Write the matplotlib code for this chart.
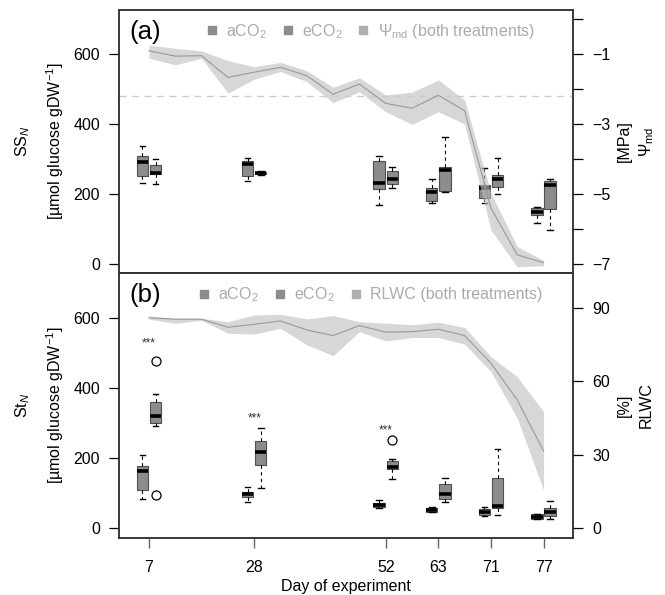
import numpy as np
import matplotlib
matplotlib.use("Agg")
import matplotlib.pyplot as plt
from matplotlib.lines import Line2D

plt.rcParams['font.family'] = ['Liberation Sans', 'DejaVu Sans']
plt.rcParams['mathtext.fontset'] = 'custom'
plt.rcParams['mathtext.rm'] = 'Liberation Sans'
plt.rcParams['mathtext.it'] = 'Liberation Sans:italic'
plt.rcParams['axes.unicode_minus'] = True

# sampling points (16 measurements of plant water status)
line_idx = np.arange(16)
# sampling points at which carbohydrates were measured
days = [7, 28, 52, 63, 71, 77]
box_idx = [0, 4, 9, 11, 13, 15]

# midday water potential [MPa]: mean and band limits
psi_mean = [-0.91, -1.06, -1.05, -1.67, -1.52, -1.38, -1.62, -2.15, -1.86, -2.41,
            -2.55, -2.18, -2.62, -5.40, -6.74, -6.96]
psi_hi = [-0.74, -0.84, -0.91, -1.19, -1.36, -1.24, -1.48, -1.95, -1.68, -2.17,
          -2.09, -1.74, -2.31, -4.97, -6.50, -6.90]
psi_lo = [-1.12, -1.31, -1.12, -2.12, -1.72, -1.50, -1.79, -2.39, -2.08, -2.65,
          -3.01, -2.65, -3.00, -6.03, -7.08, -7.05]
psi_ref = -2.2

# relative leaf water content [%]
rlwc_mean = [86.0, 85.4, 85.4, 82.1, 83.3, 84.7, 81.0, 78.7, 82.8, 80.1,
             80.3, 81.3, 78.7, 67.4, 52.4, 31.5]
rlwc_hi = [86.7, 85.8, 85.8, 84.4, 87.1, 87.4, 85.5, 86.9, 84.4, 83.8,
           83.1, 84.2, 82.0, 70.1, 61.9, 47.6]
rlwc_lo = [85.4, 83.7, 84.9, 79.7, 79.3, 81.7, 74.9, 70.5, 80.3, 76.5,
           77.9, 77.9, 75.2, 64.0, 44.9, 15.5]

# box stats: whislo, q1, med, q3, whishi
ss_a = [[231, 251, 292, 309, 338], [237, 252, 285, 295, 304], [169, 214, 230, 294, 309],
        [175, 181, 207, 216, 242], [175, 188, 216, 226, 275], [118, 140, 149, 159, 164]]
ss_e = [[228, 256, 259, 284, 300], [255, 257, 260, 263, 266], [218, 228, 242, 267, 276],
        [207, 209, 269, 278, 362], [200, 221, 244, 254, 302], [97, 156, 226, 238, 243]]
st_a = [[83, 109, 163, 178, 209], [75, 89, 96, 102, 116], [56, 59, 66, 71, 80],
        [47, 47, 51, 56, 61], [34, 37, 47, 53, 61], [25, 26, 32, 39, 40]]
st_e = [[292, 299, 321, 359, 383], [113, 180, 218, 249, 287], [140, 169, 175, 191, 197],
        [73, 83, 96, 125, 142], [37, 56, 64, 144, 225], [25, 35, 47, 58, 78]]
st_e_fliers = [[477, 94], [], [251], [], [], []]
sig_idx = [0, 4, 9]
sig_y = [528, 313, 280]


def stats(rows, fliers=None):
    out = []
    for k, r in enumerate(rows):
        out.append(dict(whislo=r[0], q1=r[1], med=r[2], q3=r[3], whishi=r[4],
                        fliers=(fliers[k] if fliers else [])))
    return out


def boxes(ax, rows, pos, fliers=None):
    ax.bxp(stats(rows, fliers), positions=pos, widths=0.43, patch_artist=True,
           manage_ticks=False,
           boxprops=dict(facecolor='#8c8c8c', edgecolor='#505050', lw=0.8),
           medianprops=dict(color='black', lw=2.6, solid_capstyle='butt'),
           whiskerprops=dict(color='black', lw=0.8, ls=(0, (3, 3))),
           capprops=dict(color='black', lw=1.0),
           flierprops=dict(marker='o', mfc='none', mec='black', ms=6.5, mew=0.9))


W, H = 665, 595
fs = 11.5
fig = plt.figure(figsize=(W / 100, H / 100), dpi=100)
axA = fig.add_axes([119 / W, 1 - 273 / H, 454 / W, 263 / H])
axB = fig.add_axes([119 / W, 1 - 538 / H, 454 / W, 265 / H])

pos_a = [i - 0.25 for i in box_idx]
pos_e = [i + 0.25 for i in box_idx]

for ax in (axA, axB):
    ax.set_xlim(-1.14, 16.12)
    ax.set_ylim(-26, 726)
    ax.set_yticks([0, 200, 400, 600])
    ax.tick_params(axis='y', direction='out', length=7, width=0.9, pad=6.5, labelsize=fs)
    for s in ax.spines.values():
        s.set_linewidth(1.1)
        s.set_color('#333333')
axB.set_ylim(-28.6, 728.6)

boxes(axA, ss_a, pos_a)
boxes(axA, ss_e, pos_e)
boxes(axB, st_a, pos_a)
boxes(axB, st_e, pos_e, st_e_fliers)
for i, y in zip(sig_idx, sig_y):
    axB.text(i, y, '***', ha='center', va='center', fontsize=8.5, color='#333333')

axA.set_xticks([])
axB.set_xticks(box_idx)
axB.set_xticklabels([str(d) for d in days])
axB.tick_params(axis='x', direction='out', length=7, width=1.0, color='#666666',
                pad=9, labelsize=fs)
axB.set_xlabel('Day of experiment', fontsize=fs, labelpad=3)

# right axes
band = '#bdbdbd'
axA2 = axA.twinx()
axA2.set_ylim(-7.257, 0.257)
axA2.axhline(psi_ref, color='#cccccc', lw=1.0, ls=(0, (5, 4)))
axA2.fill_between(line_idx, psi_lo, psi_hi, color=band, alpha=0.6, lw=0)
axA2.plot(line_idx, psi_mean, color='#999999', lw=0.8)
axA2.set_yticks(np.arange(0, -8, -1))
axA2.set_yticklabels(['' if k % 2 == 0 else '\u2212%d' % k for k in range(8)])

axB2 = axB.twinx()
axB2.set_ylim(-4.09, 104.3)
axB2.fill_between(line_idx, rlwc_lo, rlwc_hi, color=band, alpha=0.6, lw=0)
axB2.plot(line_idx, rlwc_mean, color='#999999', lw=0.8)
axB2.set_yticks([0, 30, 60, 90])

for ax in (axA2, axB2):
    ax.tick_params(axis='y', direction='out', length=7, width=0.9, pad=7, labelsize=fs)
    for s in ax.spines.values():
        s.set_linewidth(1.1)
        s.set_color('#333333')

# axis titles
for ax, name in ((axA, 'SS$_N$'), (axB, 'St$_N$')):
    ax.text(-0.213, 0.5, name, transform=ax.transAxes, rotation=90,
            ha='center', va='center', fontsize=fs)
    ax.text(-0.141, 0.5, '[\u00b5mol glucose gDW$^{-1}$]', transform=ax.transAxes,
            rotation=90, ha='center', va='center', fontsize=fs)
axA2.text(1.114, 0.5, '[MPa]', transform=axA2.transAxes, rotation=90,
          ha='center', va='center', fontsize=fs)
axA2.text(1.162, 0.5, '$\\Psi_{\\rm md}$', transform=axA2.transAxes, rotation=90,
          ha='center', va='center', fontsize=fs)
axB2.text(1.114, 0.5, '[%]', transform=axB2.transAxes, rotation=90,
          ha='center', va='center', fontsize=fs)
axB2.text(1.162, 0.5, 'RLWC', transform=axB2.transAxes, rotation=90,
          ha='center', va='center', fontsize=fs)

# panel letters and legends
for ax, letter, third in ((axA2, '(a)', '$\\Psi_{\\rm md}$ (both treatments)'),
                          (axB2, '(b)', 'RLWC (both treatments)')):
    ax.text(0.022, 0.918, letter, transform=ax.transAxes, ha='left', va='center',
            fontsize=18.5)
    handles = [Line2D([], [], ls='none', marker='s', ms=5.5, color=c)
               for c in ('#8c8c8c', '#8c8c8c', '#b0b0b0')]
    leg = ax.legend(handles, ['aCO$_2$', 'eCO$_2$', third], ncol=3, frameon=False,
                    loc='center', bbox_to_anchor=(0.553, 0.918), fontsize=fs,
                    handlelength=0.8, handletextpad=0.5, columnspacing=0.9,
                    borderpad=0, borderaxespad=0)
    for t in leg.get_texts():
        t.set_color('#aaaaaa')

fig.savefig('out.png', dpi=100)
